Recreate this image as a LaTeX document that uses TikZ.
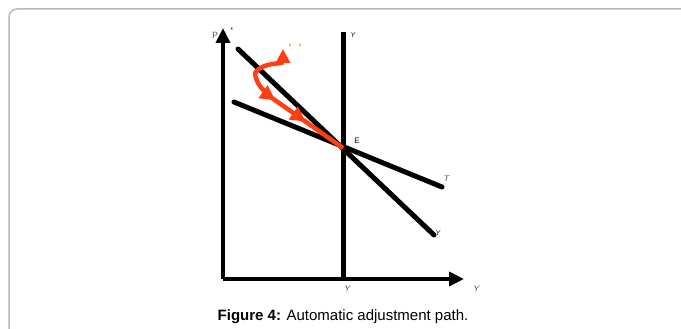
\documentclass[tikz,border=0pt]{standalone}
\usepackage{fontspec}
\setmainfont{Liberation Sans}
\usetikzlibrary{positioning,arrows.meta,calc,decorations.markings}
\definecolor{adjred}{RGB}{255,62,20}
\definecolor{lblgray}{RGB}{70,80,110}

\begin{document}
\begin{tikzpicture}[
  x=1pt,y=-1pt,font=\sffamily,
  >={Triangle[length=15pt,width=14pt]},
  axis/.style={line width=4.5pt,->},
  sched/.style={line width=5pt,line cap=round},
  lbl/.style={font=\sffamily\footnotesize\itshape,text=lblgray,inner sep=0pt},
  adjpath/.style={line width=4.5pt,draw=adjred,line join=round,
    postaction={decorate,decoration={markings,
      mark=at position 74pt with {\arrow[adjred]{Triangle[length=15pt,width=15pt]}},
      mark=at position 111pt with {\arrow[adjred]{Triangle[length=15pt,width=15pt]}}}}},
]
  \useasboundingbox (0,0) rectangle (681,329);
  % frame
  \draw[gray!55,line width=1.5pt,rounded corners=8pt] (9,330) -- (9,9) -- (682,9);

  % axes
  \coordinate (O) at (223,279);
  \coordinate (ptop) at (223,28);
  \coordinate (yend) at (464,279);
  \draw[axis] (O) -- (ptop);
  \draw[axis] (O) -- (yend);

  % schedules
  \coordinate (E) at (343,148);
  \coordinate (vtop) at (343,32);
  \coordinate (ystar) at (343,279);
  \coordinate (as0) at (238,49);
  \coordinate (as1) at (434,235);
  \coordinate (t0) at (234,102);
  \coordinate (t1) at (442,187);
  \draw[line width=5pt] (vtop) -- (ystar);
  \draw[sched] (as0) -- (as1);
  \draw[sched] (t0) -- (t1);

  % adjustment path
  \coordinate (s) at (283,49);
  \draw[adjpath,{Triangle[length=14pt,width=14pt]}-]
    (s) .. controls (283,64) and (262,62) .. (255,73)
        .. controls (256,83) and (262,90) .. (272,98) -- (E);
  \node[font=\small\bfseries,text=orange!80!red,inner sep=0pt] (ticks) at (295,47) {'\hspace{8pt}'};

  % labels
  \node[font=\sffamily\small,text=lblgray,inner sep=0pt] (lp) at (215,35) {P};
  \node[font=\scriptsize\itshape,inner sep=0pt] (lps) at (232,29) {$\epsilon$};
  \node[font=\scriptsize\itshape,inner sep=0pt] (lv) at (353,35) {Y};
  \node[font=\footnotesize\rmfamily,inner sep=0pt] (lE) at (357,141) {E};
  \node[lbl] (lT) at (446,179) {T};
  \node[font=\scriptsize\itshape,inner sep=0pt] (las) at (438,233) {Y};
  \node[lbl] (ly1) at (347,289) {Y};
  \node[lbl] (ly2) at (476,289) {Y};

  % caption
  \node[font=\fontsize{15}{18}\selectfont,inner sep=0pt] (cap) at (343,317)
    {\textbf{Figure 4:} Automatic adjustment path.};
\end{tikzpicture}
\end{document}
